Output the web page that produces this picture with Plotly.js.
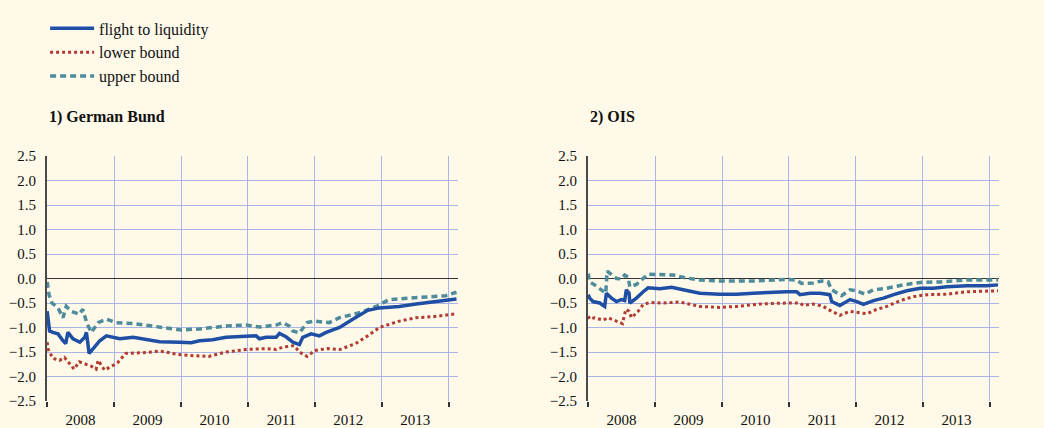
<!DOCTYPE html>
<html>
<head>
<meta charset="utf-8">
<script src="https://cdn.plot.ly/plotly-3.0.1.min.js"></script>
<style>
  html, body { margin: 0; padding: 0; background: #fef9e8; }
  #chart { width: 1044px; height: 428px; }
</style>
</head>
<body>
<div id="chart"></div>
<script>
// 1) German Bund
var bundLiqDates = ['2008-01-02','2008-01-15','2008-02-02','2008-03-01','2008-03-28','2008-04-12','2008-04-24','2008-05-22','2008-06-28','2008-07-25','2008-08-03','2008-08-18','2008-09-09','2008-10-15','2008-11-20','2008-12-27','2009-02-01','2009-04-15','2009-06-25','2009-09-06','2009-12-25','2010-02-25','2010-04-12','2010-06-23','2010-09-04','2010-12-22','2011-02-15','2011-03-05','2011-04-10','2011-06-04','2011-06-22','2011-07-28','2011-09-03','2011-10-09','2011-10-27','2011-12-12','2012-01-26','2012-03-03','2012-05-15','2012-07-26','2012-09-19','2012-10-16','2012-12-18','2013-04-06','2013-07-06','2013-10-05','2013-12-26','2014-02-12'];
var bundLiq = [-0.67,-1.07,-1.10,-1.13,-1.27,-1.33,-1.10,-1.23,-1.30,-1.20,-1.10,-1.53,-1.43,-1.27,-1.17,-1.20,-1.23,-1.20,-1.25,-1.29,-1.30,-1.31,-1.27,-1.25,-1.20,-1.19,-1.17,-1.23,-1.20,-1.20,-1.12,-1.19,-1.30,-1.35,-1.20,-1.13,-1.17,-1.10,-1.00,-0.83,-0.70,-0.65,-0.60,-0.57,-0.52,-0.48,-0.45,-0.42];

var bundUpDates = ['2008-01-02','2008-01-12','2008-01-28','2008-03-01','2008-03-28','2008-04-15','2008-05-12','2008-06-25','2008-07-14','2008-08-06','2008-08-30','2008-10-06','2008-11-20','2009-01-10','2009-04-15','2009-08-12','2009-11-25','2010-01-01','2010-04-12','2010-09-04','2010-12-22','2011-03-05','2011-06-04','2011-07-10','2011-08-15','2011-09-03','2011-10-09','2011-11-20','2011-12-30','2012-03-20','2012-05-15','2012-09-01','2012-12-01','2013-02-10','2013-06-20','2013-09-10','2013-12-15','2014-02-12'];
var bundUp = [-0.07,-0.33,-0.50,-0.60,-0.80,-0.57,-0.67,-0.73,-0.63,-0.92,-1.10,-0.90,-0.83,-0.90,-0.92,-0.97,-1.03,-1.05,-1.03,-0.97,-0.95,-0.99,-0.95,-0.90,-0.97,-1.07,-1.11,-0.90,-0.87,-0.90,-0.80,-0.70,-0.57,-0.43,-0.40,-0.39,-0.35,-0.28];

var bundLowDates = ['2008-01-02','2008-01-08','2008-02-02','2008-03-10','2008-04-05','2008-05-28','2008-06-25','2008-08-30','2008-09-25','2008-10-06','2008-11-10','2009-01-20','2009-03-05','2009-06-25','2009-09-10','2009-12-15','2010-02-10','2010-06-01','2010-09-04','2010-12-22','2011-04-10','2011-06-04','2011-07-10','2011-09-10','2011-10-09','2011-11-20','2012-01-01','2012-03-10','2012-05-15','2012-08-10','2012-10-16','2012-12-18','2013-04-06','2013-07-06','2013-10-05','2014-02-12'];
var bundLow = [-1.30,-1.45,-1.63,-1.67,-1.61,-1.85,-1.70,-1.79,-1.85,-1.67,-1.87,-1.72,-1.53,-1.51,-1.48,-1.55,-1.57,-1.59,-1.50,-1.45,-1.43,-1.45,-1.40,-1.37,-1.50,-1.59,-1.47,-1.43,-1.45,-1.33,-1.17,-1.00,-0.87,-0.80,-0.78,-0.72,-0.65,-0.58].slice(0, 36);

// 2) OIS
var oisLiqDates = ['2008-01-02','2008-01-10','2008-01-28','2008-03-05','2008-04-01','2008-04-10','2008-05-08','2008-06-04','2008-07-01','2008-07-19','2008-07-28','2008-08-12','2008-08-16','2008-09-21','2008-10-28','2008-11-24','2009-01-27','2009-04-01','2009-06-03','2009-09-02','2009-12-20','2010-03-21','2010-06-20','2010-09-19','2010-12-20','2011-02-12','2011-03-02','2011-04-25','2011-06-19','2011-08-12','2011-08-22','2011-10-06','2011-11-30','2012-01-06','2012-02-12','2012-04-06','2012-05-31','2012-07-25','2012-10-05','2012-12-17','2013-02-28','2013-05-12','2013-08-29','2013-12-16','2014-02-15'];
var oisLiq = [-0.33,-0.40,-0.47,-0.50,-0.57,-0.30,-0.40,-0.47,-0.43,-0.45,-0.23,-0.30,-0.50,-0.40,-0.27,-0.19,-0.21,-0.18,-0.23,-0.30,-0.32,-0.32,-0.30,-0.28,-0.27,-0.27,-0.33,-0.30,-0.30,-0.33,-0.47,-0.55,-0.43,-0.47,-0.53,-0.45,-0.40,-0.33,-0.25,-0.20,-0.20,-0.17,-0.15,-0.15,-0.13];

var oisUpDates = ['2008-01-02','2008-01-10','2008-02-06','2008-03-14','2008-04-07','2008-04-14','2008-05-08','2008-06-04','2008-07-01','2008-07-19','2008-08-07','2008-08-16','2008-09-21','2008-10-28','2008-11-24','2009-01-27','2009-04-10','2009-06-21','2009-09-02','2009-12-20','2010-06-20','2010-12-20','2011-02-12','2011-03-11','2011-05-14','2011-06-28','2011-08-03','2011-08-22','2011-10-15','2011-11-30','2012-01-06','2012-02-21','2012-04-06','2012-06-18','2012-09-17','2012-12-17','2013-04-06','2013-08-29','2014-02-15'];
var oisUp = [0.10,-0.07,-0.13,-0.23,-0.30,0.15,0.07,0.00,-0.01,0.07,0.03,-0.17,-0.12,0.00,0.09,0.08,0.07,0.01,-0.03,-0.05,-0.05,-0.02,-0.03,-0.10,-0.09,-0.05,-0.07,-0.23,-0.35,-0.23,-0.25,-0.32,-0.23,-0.20,-0.13,-0.08,-0.07,-0.03,-0.03];

var oisLowDates = ['2008-01-02','2008-01-10','2008-02-06','2008-03-23','2008-04-19','2008-06-04','2008-07-07','2008-07-25','2008-08-12','2008-08-25','2008-09-30','2008-10-28','2008-12-03','2009-02-14','2009-05-16','2009-09-02','2009-12-20','2010-03-21','2010-07-26','2010-12-20','2011-03-02','2011-03-20','2011-05-14','2011-07-07','2011-08-22','2011-10-06','2011-11-30','2012-01-06','2012-03-01','2012-04-24','2012-06-18','2012-08-30','2012-11-10','2013-01-23','2013-05-12','2013-08-29','2014-02-15'];
var oisLow = [-0.77,-0.83,-0.80,-0.85,-0.80,-0.87,-0.92,-0.63,-0.67,-0.80,-0.67,-0.53,-0.49,-0.50,-0.48,-0.57,-0.59,-0.57,-0.52,-0.50,-0.50,-0.55,-0.52,-0.57,-0.67,-0.75,-0.67,-0.69,-0.72,-0.63,-0.57,-0.45,-0.37,-0.33,-0.32,-0.27,-0.25];

var seriesNames = ['flight to liquidity', 'lower bound', 'upper bound'];
var panelTitles = ['1) German Bund', '2) OIS'];
var yTicks = [-2.5, -2.0, -1.5, -1.0, -0.5, 0.0, 0.5, 1.0, 1.5, 2.0, 2.5];

var blue = '#1f4fa5';
var red = '#b23a30';
var teal = '#4e8c9c';
var bg = '#fef9e8';
var grid = '#aab4e6';
var font = 'Liberation Serif, Times New Roman, serif';

function makeTraces(liqD, liq, lowD, low, upD, up, xa, ya, showLegend) {
    return [
        {x: upD, y: up, type: 'scatter', mode: 'lines', name: seriesNames[2], legendrank: 3,
         xaxis: xa, yaxis: ya, showlegend: showLegend,
         line: {color: teal, width: 3.5, dash: '6px,4px'}},
        {x: lowD, y: low, type: 'scatter', mode: 'lines', name: seriesNames[1], legendrank: 2,
         xaxis: xa, yaxis: ya, showlegend: showLegend,
         line: {color: red, width: 3, dash: 'dot'}},
        {x: liqD, y: liq, type: 'scatter', mode: 'lines', name: seriesNames[0], legendrank: 1,
         xaxis: xa, yaxis: ya, showlegend: showLegend,
         line: {color: blue, width: 3.5}}
    ];
}

function xAxis(domain, anchor) {
    return {
        domain: domain, anchor: anchor, type: 'date',
        range: ['2008-01-01', '2014-02-20'],
        tick0: '2008-01-01', dtick: 'M12', tickformat: '%Y', ticklabelmode: 'period',
        showgrid: true, gridcolor: grid, gridwidth: 1,
        ticks: 'outside', ticklen: 5, tickcolor: '#333', tickwidth: 1.5,
        showline: false, zeroline: false,
        tickfont: {family: font, size: 15, color: '#111'}
    };
}

function yAxis(anchor, side, overlay) {
    var ax = {
        anchor: anchor, side: side, range: [-2.5, 2.5],
        tickvals: yTicks, tickformat: '.1f',
        showline: true, linecolor: '#4a4a4a', linewidth: 2,
        ticks: '', ticklabelstandoff: 6,
        tickfont: {family: font, size: 15, color: '#111'}
    };
    if (overlay) {
        ax.overlaying = overlay;
        ax.showgrid = false;
        ax.zeroline = false;
    } else {
        ax.showgrid = true;
        ax.gridcolor = grid;
        ax.zeroline = true;
        ax.zerolinecolor = '#333';
        ax.zerolinewidth = 1;
    }
    return ax;
}

var data = makeTraces(bundLiqDates, bundLiq, bundLowDates, bundLow, bundUpDates, bundUp, 'x', 'y', true)
    .concat(makeTraces(oisLiqDates, oisLiq, oisLowDates, oisLow, oisUpDates, oisUp, 'x2', 'y3', false));

var layout = {
    width: 1044, height: 428,
    paper_bgcolor: bg, plot_bgcolor: bg,
    margin: {l: 47, r: 45, t: 152, b: 27},
    font: {family: font, size: 15, color: '#111'},
    xaxis: xAxis([0, 0.4317], 'y'),
    yaxis: yAxis('x', 'left'),
    yaxis2: yAxis('x', 'right', 'y'),
    xaxis2: xAxis([0.5683, 1], 'y3'),
    yaxis3: yAxis('x2', 'left'),
    yaxis4: yAxis('x2', 'right', 'y3'),
    showlegend: true,
    legend: {
        x: -0.002, y: 1.59, xanchor: 'left', yanchor: 'top',
        bgcolor: 'rgba(0,0,0,0)', borderwidth: 0, itemwidth: 44,
        traceorder: 'normal', tracegroupgap: 0,
        font: {family: font, size: 16, color: '#111'}
    },
    annotations: [
        {xref: 'paper', yref: 'paper', x: 0, y: 1.161, xanchor: 'left', yanchor: 'middle',
         text: '<b>' + panelTitles[0] + '</b>', showarrow: false, font: {family: font, size: 16, color: '#111'}},
        {xref: 'paper', yref: 'paper', x: 0.5683, y: 1.161, xanchor: 'left', yanchor: 'middle',
         text: '<b>' + panelTitles[1] + '</b>', showarrow: false, font: {family: font, size: 16, color: '#111'}}
    ]
};

Plotly.newPlot('chart', data, layout, {staticPlot: true});
</script>
</body>
</html>
